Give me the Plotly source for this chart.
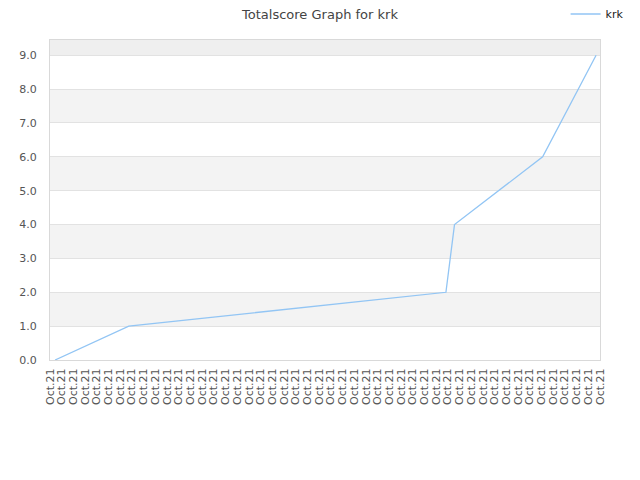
import plotly.graph_objects as go

# Data
times = ["2020-10-21 00:13", "2020-10-21 03:22", "2020-10-21 16:55",
         "2020-10-21 17:17", "2020-10-21 21:03", "2020-10-21 23:20"]
scores = [0, 1, 2, 4, 6, 9]
series_name = "krk"
title_text = "Totalscore Graph for krk"
x_range = ["2020-10-21 00:00", "2020-10-21 23:30"]
y_ticks = [0, 1, 2, 3, 4, 5, 6, 7, 8, 9]
y_max = 9.45

font_family = "DejaVu Sans, Verdana, sans-serif"

fig = go.Figure()
fig.add_trace(go.Scatter(
    x=times, y=scores, mode="lines", name=series_name,
    line=dict(color="#92c5f4", width=1.3),
    hoverinfo="skip",
))

# alternating horizontal bands
shapes = []
bounds = y_ticks + [y_max]
for i in range(len(bounds) - 1):
    if i % 2 == 1:
        shapes.append(dict(
            type="rect", xref="paper", yref="y", x0=0, x1=1,
            y0=bounds[i], y1=bounds[i + 1],
            fillcolor="#efefef" if bounds[i + 1] == y_max else "#f3f3f3",
            line=dict(width=0), layer="below",
        ))

# the page body adds an 8px offset, so the figure is sized 632x472
fig.update_layout(
    width=632, height=472,
    margin=dict(l=42, r=40, t=32, b=120, autoexpand=False),
    paper_bgcolor="white", plot_bgcolor="white",
    font=dict(family=font_family, size=11, color="#555555"),
    title=dict(text=title_text, x=(320 - 8) / 632, xanchor="center",
               y=1 - 6 / 472, yanchor="middle",
               font=dict(size=13, color="#444444", family=font_family)),
    showlegend=True,
    legend=dict(x=1.052, xanchor="right", y=1 + 26 / 320, yanchor="middle",
                bgcolor="rgba(0,0,0,0)", font=dict(size=11, color="#222222"),
                itemwidth=30),
    shapes=shapes,
    xaxis=dict(
        type="date", range=x_range, automargin=False,
        tick0="2020-10-21 00:00", dtick=30 * 60 * 1000,
        tickformat="%b.%d", tickangle=-90,
        showgrid=False, zeroline=False,
        showline=True, mirror=True, linecolor="#d9d9d9", linewidth=1,
        ticks="", ticklabelstandoff=3,
        tickfont=dict(size=11, color="#555555"),
    ),
    yaxis=dict(
        range=[0, y_max], tickvals=y_ticks, tickformat=".1f", automargin=False,
        showgrid=True, gridcolor="#e2e2e2", gridwidth=1,
        zeroline=False,
        showline=True, mirror=True, linecolor="#d9d9d9", linewidth=1,
        ticks="", ticklabelstandoff=10,
        tickfont=dict(size=11, color="#555555"),
    ),
)

fig.write_html("out.html")
